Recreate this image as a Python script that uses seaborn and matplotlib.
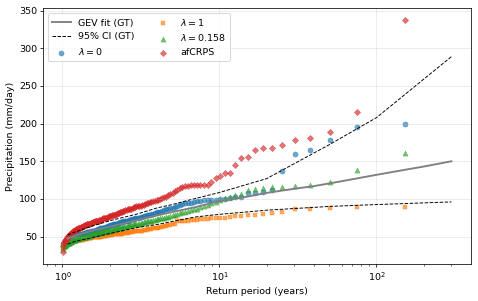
import numpy as np
import pandas as pd
import matplotlib
matplotlib.use("Agg")
import matplotlib.pyplot as plt
import seaborn as sns

# sorted annual maxima (mm/day), smallest first
lam0 = [38, 40, 41, 42, 42, 43, 43, 44, 44, 45,
        45, 46, 46, 47, 47, 47, 48, 48, 48, 49,
        49, 49, 50, 50, 50, 51, 51, 51, 52, 52,
        52, 52, 53, 53, 53, 53, 54, 54, 54, 54,
        55, 55, 55, 55, 56, 56, 56, 56, 56, 56,
        56, 57, 57, 57, 58, 58, 58, 59, 59, 59,
        60, 60, 60, 61, 61, 61, 62, 62, 62, 63,
        63, 63, 64, 64, 64, 65, 65, 65, 66, 66,
        67, 67, 67, 68, 68, 69, 69, 69, 70, 70,
        71, 71, 71, 72, 72, 73, 73, 73, 74, 74,
        75, 75, 76, 76, 77, 77, 78, 78, 79, 80,
        80, 81, 82, 82, 83, 84, 85, 86, 87, 88,
        88, 89, 91, 92, 93, 94, 95, 95, 96, 97,
        97, 98, 98, 99, 99, 100, 100, 101, 102, 103,
        108, 108, 109, 112, 137, 159, 165, 178, 196, 200]
lam1 = [33, 35, 36, 37, 38, 38, 39, 39, 40, 40,
        41, 41, 41, 42, 42, 42, 42, 43, 43, 43,
        43, 43, 44, 44, 44, 44, 44, 45, 45, 45,
        45, 45, 45, 46, 46, 46, 46, 46, 46, 47,
        47, 47, 47, 47, 47, 48, 48, 48, 48, 48,
        48, 48, 49, 49, 49, 49, 49, 49, 50, 50,
        50, 50, 50, 50, 50, 51, 51, 51, 51, 51,
        51, 51, 52, 52, 52, 52, 52, 52, 53, 53,
        53, 53, 53, 54, 54, 54, 54, 54, 55, 55,
        55, 55, 55, 56, 56, 56, 56, 57, 57, 57,
        57, 58, 58, 58, 59, 59, 59, 60, 60, 60,
        61, 61, 62, 62, 63, 63, 64, 64, 65, 65,
        66, 67, 70, 70, 71, 71, 71, 72, 72, 72,
        73, 73, 73, 74, 74, 75, 75, 76, 77, 77,
        79, 79, 80, 81, 82, 86, 87, 88, 89, 89]
lam0158 = [34, 36, 37, 38, 38, 39, 39, 40, 40, 41,
           41, 42, 42, 42, 43, 43, 43, 44, 44, 44,
           45, 45, 45, 46, 46, 46, 47, 47, 47, 47,
           48, 48, 48, 48, 49, 49, 49, 49, 50, 50,
           50, 50, 50, 51, 51, 51, 51, 51, 52, 52,
           52, 52, 53, 53, 53, 54, 54, 54, 54, 55,
           55, 55, 55, 56, 56, 56, 56, 57, 57, 57,
           57, 58, 58, 58, 58, 59, 59, 59, 60, 60,
           60, 61, 61, 61, 62, 62, 62, 63, 63, 63,
           64, 64, 64, 65, 65, 65, 66, 66, 66, 67,
           67, 67, 68, 68, 69, 69, 70, 70, 71, 71,
           72, 72, 73, 73, 74, 74, 75, 76, 76, 77,
           78, 79, 80, 81, 82, 83, 84, 85, 86, 87,
           89, 90, 92, 94, 96, 98, 101, 103, 105, 106,
           112, 113, 114, 116, 116, 117, 119, 123, 138, 161]
afcrps = [29, 38, 41, 43, 44, 45, 46, 47, 48, 49,
          50, 51, 51, 52, 53, 53, 54, 55, 55, 56,
          56, 57, 57, 58, 58, 59, 59, 60, 60, 60,
          61, 61, 62, 62, 62, 63, 63, 63, 64, 64,
          64, 65, 65, 65, 66, 66, 66, 67, 67, 67,
          68, 68, 68, 69, 69, 69, 70, 70, 70, 71,
          71, 71, 72, 72, 72, 73, 73, 74, 74, 74,
          75, 75, 76, 76, 77, 77, 77, 78, 78, 79,
          79, 80, 80, 81, 81, 82, 82, 83, 84, 84,
          85, 85, 86, 86, 87, 87, 88, 89, 89, 90,
          91, 91, 91, 92, 92, 93, 94, 95, 96, 96,
          97, 97, 98, 99, 100, 101, 102, 103, 105, 106,
          108, 110, 112, 114, 116, 117, 117, 118, 118, 118,
          119, 119, 119, 123, 128, 130, 134, 135, 145, 154,
          156, 165, 167, 168, 171, 178, 181, 189, 216, 338]

# GEV fit of the ground truth and its 95% CI
gev_T = [1.08, 1.1, 1.15, 1.2, 1.3, 1.5, 1.75, 2, 2.5, 3, 4, 5, 7, 10,
         15, 20, 30, 40, 60, 100, 150, 200, 300]
gev_fit = [47, 48, 49.5, 51, 53.5, 57, 60.5, 63, 68, 72, 78, 82.5, 89, 97,
           103, 108, 113.5, 117, 123.5, 132, 138.5, 143, 150]
ci_T = [1.08, 1.2, 1.5, 2, 3, 4, 5, 7, 10, 20, 50, 100, 300]
ci_upper = [52, 56, 63, 71, 80, 88, 92.5, 100.5, 108.5, 127, 172, 208, 289]
ci_lower = [40, 43.5, 48, 54, 62, 66, 70, 76, 79.5, 85, 90, 92.5, 96]


def return_period(vals):
    n = len(vals)
    return (n + 1) / np.arange(n, 0, -1)


fig = plt.figure(figsize=(478 / 68, 301 / 68), dpi=68)
ax = fig.add_axes([0.091, 0.123, 0.894, 0.850])

sns.lineplot(x=gev_T, y=gev_fit, ax=ax, color='gray', lw=2, label='GEV fit (GT)')
sns.lineplot(x=ci_T, y=ci_upper, ax=ax, color='black', lw=1, ls='--', label='95% CI (GT)')
sns.lineplot(x=ci_T, y=ci_lower, ax=ax, color='black', lw=1, ls='--')

series = [
    (lam0, r'$\lambda=0$', '#1f77b4', 'o', 30),
    (lam1, r'$\lambda=1$', '#ff7f0e', 's', 24),
    (lam0158, r'$\lambda=0.158$', '#2ca02c', '^', 30),
    (afcrps, 'afCRPS', '#d62728', 'D', 22),
]
for vals, lab, col, mk, sz in series:
    df = pd.DataFrame({'T': return_period(vals), 'P': vals})
    sns.scatterplot(data=df, x='T', y='P', ax=ax, color=col, marker=mk, s=sz,
                    alpha=0.65, edgecolor=col, linewidth=0.5, label=lab)

ax.set_xscale('log')
ax.set_xlabel('Return period (years)')
ax.set_ylabel('Precipitation (mm/day)')
ax.grid(True, alpha=0.3)
ax.legend(ncol=2, loc='upper left')

fig.savefig('out.png', dpi=68)
